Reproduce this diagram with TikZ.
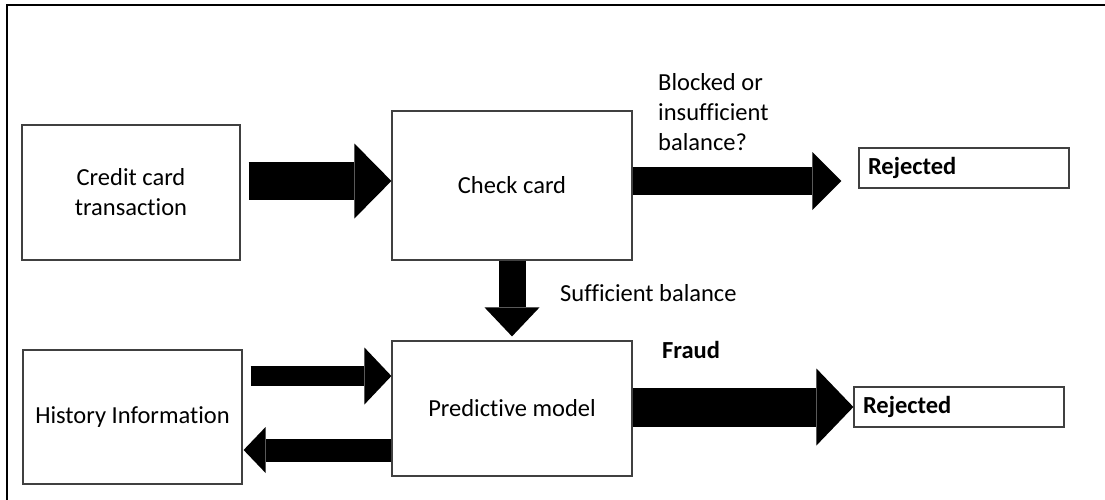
\documentclass[tikz,border=0pt]{standalone}
\usepackage{fontspec}
\setmainfont[Ligatures=NoCommon]{Carlito}
\usetikzlibrary{arrows.meta}

\begin{document}
\begin{tikzpicture}[x=1pt, y=-1pt,
  every node/.style={font=\fontsize{24.5}{30}\selectfont},
  box/.style={draw=black!75, line width=1.2pt, inner sep=0pt, align=center},
  rejected/.style={box, minimum width=210pt, minimum height=40pt, text width=192pt,
    align=left, font=\fontsize{24.5}{30}\selectfont\bfseries},
  fat/.style n args={3}{line width=#1, -{Triangle[length=#2, width=#3, line width=0pt]}}]
  \useasboundingbox (0,0) rectangle (1105,500);

  % frame
  \draw[line width=2pt] (7,500) -- (7,5) -- (1105,5);

  % boxes
  \node[box, minimum width=218pt, minimum height=135pt] (credit) at (131,192.5) {Credit card\\transaction};
  \node[box, minimum width=240pt, minimum height=149pt] (check) at (512,185.5) {Check card};
  \node[rejected] (rej1) at (964,168) {Rejected};
  \node[box, minimum width=219pt, minimum height=134pt] (history) at (132.5,417) {History Information};
  \node[box, minimum width=240pt, minimum height=135pt] (predictive) at (512,408.5) {Predictive model};
  \node[rejected] (rej2) at (959,407) {Rejected};

  % labels
  \node[anchor=west, inner sep=0pt, align=left] (blocked) at (658,112) {Blocked or\\insufficient\\balance?};
  \node[anchor=west, inner sep=0pt] (sufficient) at (560,293) {Sufficient balance};
  \node[anchor=west, inner sep=0pt, font=\fontsize{24.5}{30}\selectfont\bfseries] (fraud) at (662,350) {Fraud};

  % block arrows
  \draw[fat={38pt}{37pt}{75pt}, shorten <=8pt] (credit.east |- 0,181) -- (check.west |- 0,181);
  \draw[fat={28pt}{29pt}{58pt}, shorten >=17pt] (check.east |- 0,181) -- (rej1.west |- 0,181);
  \draw[fat={27pt}{29pt}{55pt}, shorten >=4pt] (check.south) -- (predictive.north);
  \draw[fat={20pt}{27pt}{57pt}, shorten <=8pt] (history.east |- 0,376) -- (predictive.west |- 0,376);
  \draw[fat={23pt}{22pt}{46pt}, shorten >=1pt] (predictive.west |- 0,450) -- (history.east |- 0,450);
  \draw[fat={39pt}{37pt}{77pt}] (predictive.east |- 0,407) -- (rej2.west |- 0,407);
\end{tikzpicture}
\end{document}
